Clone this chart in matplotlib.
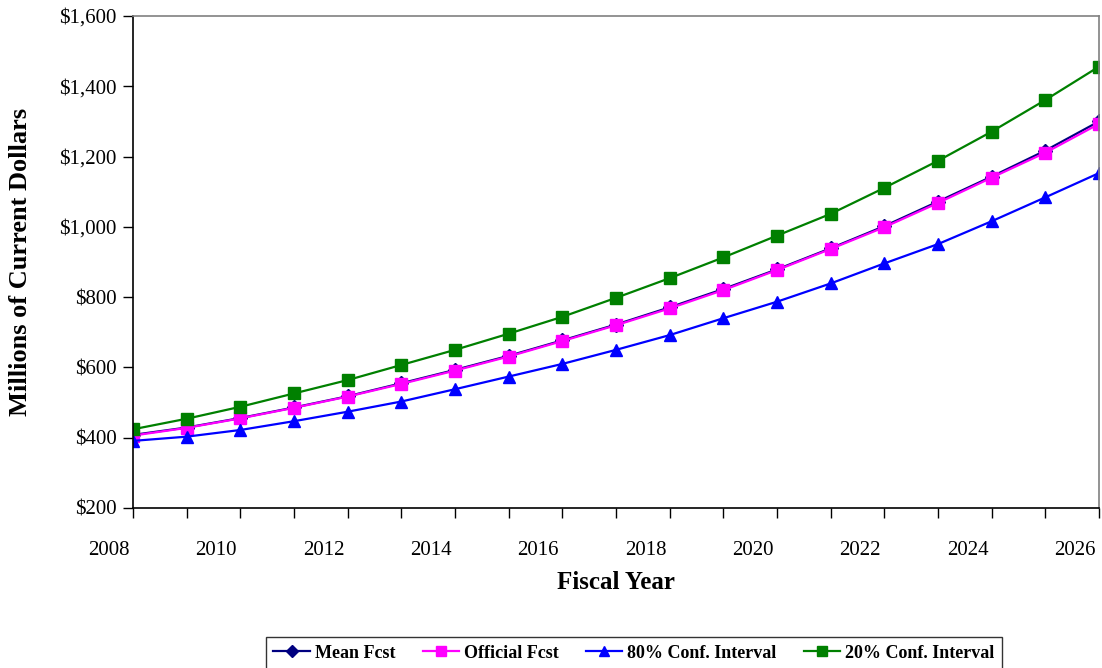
import matplotlib
matplotlib.use('Agg')
from matplotlib import pyplot as plt
from matplotlib.transforms import ScaledTranslation
from matplotlib.ticker import FuncFormatter

# data
years = list(range(2008, 2027))
mean_fcst = [408, 429, 456, 486, 518, 555, 593, 633, 677, 722, 771, 823, 879, 939, 1002, 1072, 1143, 1217, 1300]
official_fcst = [406, 428, 455, 485, 517, 553, 591, 631, 675, 720, 768, 820, 877, 937, 999, 1068, 1140, 1211, 1293]
ci_80 = [391, 403, 422, 447, 474, 503, 538, 574, 610, 650, 692, 740, 787, 839, 896, 951, 1016, 1084, 1153]
ci_20 = [424, 454, 488, 526, 564, 607, 650, 696, 744, 798, 854, 913, 975, 1037, 1111, 1188, 1271, 1361, 1456]

plt.rcParams['font.family'] = ['Liberation Serif', 'DejaVu Serif']

fig = plt.figure(figsize=(11.02, 6.68), dpi=100)
ax = fig.add_axes([133 / 1102, 1 - 508 / 668, (1099 - 133) / 1102, (508 - 16) / 668])

ax.plot(years, mean_fcst, color='#000080', marker='D', markersize=7, lw=1.6, label='Mean Fcst')
ax.plot(years, official_fcst, color='#FF00FF', marker='s', markersize=8.5, lw=1.6, label='Official Fcst')
ax.plot(years, ci_80, color='#0000FF', marker='^', markersize=9, lw=1.6, label='80% Conf. Interval')
ax.plot(years, ci_20, color='#008000', marker='s', markersize=8.5, lw=1.6, label='20% Conf. Interval')

ax.set_xlim(2008, 2026)
ax.set_ylim(200, 1600)
ax.set_yticks(range(200, 1601, 200))
ax.yaxis.set_major_formatter(FuncFormatter(lambda v, p: '${:,.0f}'.format(v)))
ax.set_xticks(years)
ax.set_xticklabels([str(y) if y % 2 == 0 else '' for y in years])

ax.tick_params(axis='both', direction='out', labelsize=15, colors='black')
ax.tick_params(axis='y', length=7, width=1, pad=5)
ax.tick_params(axis='x', length=7, width=1, pad=17)
shift = ScaledTranslation(-24 / 100, 0, fig.dpi_scale_trans)
for lab in ax.get_xticklabels():
    lab.set_transform(lab.get_transform() + shift)

for side in ['left', 'bottom']:
    ax.spines[side].set_color('black')
    ax.spines[side].set_linewidth(1.2)
for side in ['top', 'right']:
    ax.spines[side].set_color('#808080')
    ax.spines[side].set_linewidth(1.2)

ax.set_ylabel('Millions of Current Dollars', fontsize=19, fontweight='bold', labelpad=19)
ax.set_xlabel('Fiscal Year', fontsize=18, fontweight='bold', labelpad=8)

leg = fig.legend(loc='center', bbox_to_anchor=(634 / 1102, 1 - 653 / 668), ncol=4,
                 prop={'weight': 'bold', 'size': 13}, frameon=True, fancybox=False,
                 handlelength=2.0, handletextpad=0.3, columnspacing=1.5,
                 borderpad=0.4, markerscale=0.85)
leg.get_frame().set_edgecolor('black')
leg.get_frame().set_linewidth(1)

fig.savefig('out.png', dpi=100)
